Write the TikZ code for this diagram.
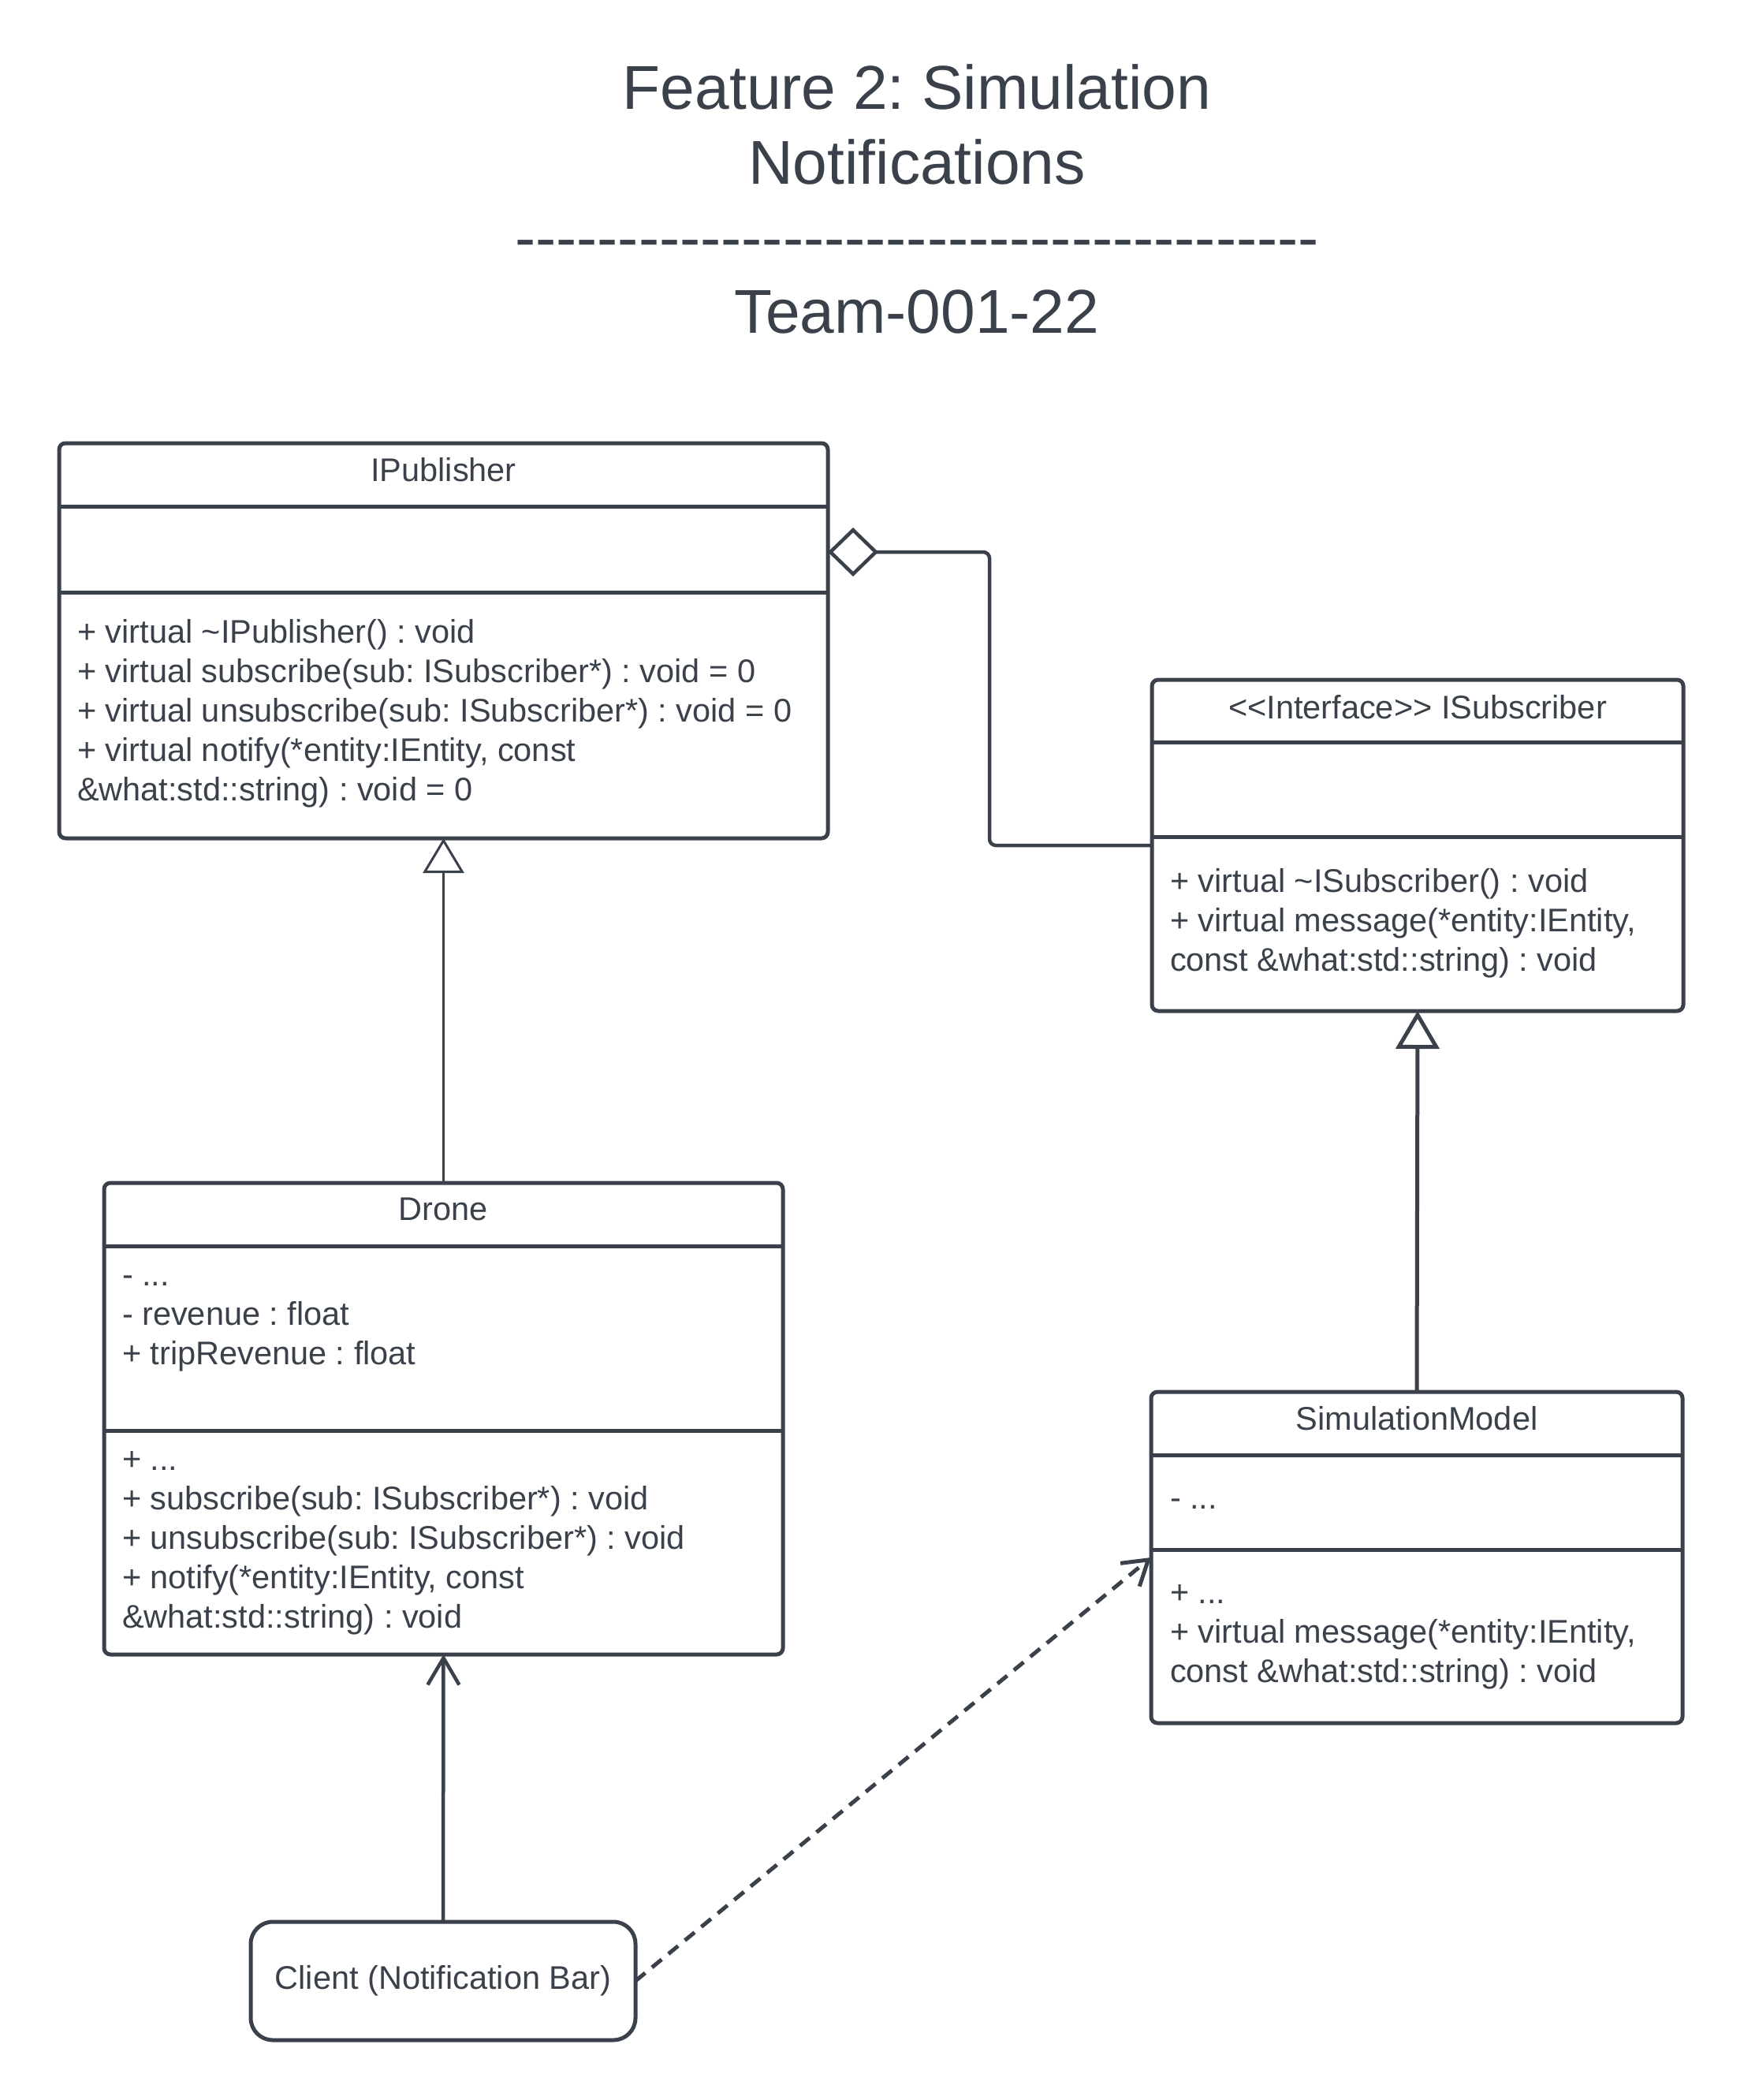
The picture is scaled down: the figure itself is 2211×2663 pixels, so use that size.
\documentclass[tikz,border=0pt]{standalone}
\usepackage{fontspec}
\setmainfont{Liberation Sans}
\usetikzlibrary{arrows.meta}
\definecolor{ink}{RGB}{58,65,74}
\frenchspacing
\begin{document}
\begin{tikzpicture}[x=1pt,y=-1pt,line join=round,
  every node/.style={text=ink,inner sep=0pt,outer sep=0pt},
  body/.style={font=\fontsize{41.5pt}{50pt}\selectfont},
  titletext/.style={font=\fontsize{78.5pt}{94pt}\selectfont,anchor=base},
  classbox/.style={draw=ink,line width=5pt,rounded corners=8pt,fill=white},
  divider/.style={draw=ink,line width=5pt},
  members/.style={body,anchor=north west,align=left},
  ctitle/.style={body,anchor=base},
  genthin/.style={draw=ink,line width=3pt,-{Triangle[open,length=44pt,width=52pt,fill=white]}},
  genthick/.style={draw=ink,line width=5pt,-{Triangle[open,length=48pt,width=55pt,fill=white]}},
  aggr/.style={draw=ink,line width=4.5pt,rounded corners=8pt,-{Diamond[open,length=64pt,width=62pt,fill=white]}},
  assoc/.style={draw=ink,line width=4.5pt,-{Straight Barb[length=34pt,width=40pt]}},
  dep/.style={draw=ink,line width=5pt,dash pattern=on 16pt off 11pt,-{Straight Barb[length=30pt,width=38pt]}}]
\fill[white] (0,0) rectangle (2211,2663);
\useasboundingbox (0,0) rectangle (2211,2663);

% title
\node[titletext] (t1) at (1163,138) {Feature 2: Simulation};
\node[titletext] (t2) at (1163,233) {Notifications};
\node[titletext] (t3) at (1163,328) {\foreach \i in {1,...,39}{-\kern0pt}};
\node[titletext] (t4) at (1163,422) {Team-001-22};

% IPublisher
\node[classbox,minimum width=975pt,minimum height=501pt] (ipub) at (562.5,812.5) {};
\draw[divider] ([yshift=-80pt]ipub.north west) -- ([yshift=-80pt]ipub.north east);
\draw[divider] ([yshift=-189pt]ipub.north west) -- ([yshift=-189pt]ipub.north east);
\node[ctitle] (ipubT) at (562.5,610) {IPublisher};
\node[members] (ipubM) at (98,780) {\strut + virtual \textasciitilde IPublisher() : void\\
\strut + virtual subscribe(sub: ISubscriber*) : void = 0\\
\strut + virtual unsubscribe(sub: ISubscriber*) : void = 0\\
\strut + virtual notify(*entity:IEntity, const\\
\strut \&what:std::string) : void = 0};

% ISubscriber
\node[classbox,minimum width=674pt,minimum height=420pt] (isub) at (1798,1072) {};
\draw[divider] ([yshift=-79pt]isub.north west) -- ([yshift=-79pt]isub.north east);
\draw[divider] ([yshift=-199pt]isub.north west) -- ([yshift=-199pt]isub.north east);
\node[ctitle] (isubT) at (1798,911) {\textless\kern0pt\textless\kern0pt Interface\textgreater\kern0pt\textgreater{} ISubscriber};
\node[members] (isubM) at (1484,1096) {\strut + virtual \textasciitilde ISubscriber() : void\\
\strut + virtual message(*entity:IEntity,\\
\strut const \&what:std::string) : void};

% Drone
\node[classbox,minimum width=861pt,minimum height=598pt] (drone) at (562.5,1799) {};
\draw[divider] ([yshift=-80pt]drone.north west) -- ([yshift=-80pt]drone.north east);
\draw[divider] ([yshift=-314pt]drone.north west) -- ([yshift=-314pt]drone.north east);
\node[ctitle] (droneT) at (562.5,1547) {Drone};
\node[members] (droneA) at (155,1595) {\strut - ...\\
\strut - revenue : float\\
\strut + tripRevenue : float};
\node[members] (droneM) at (155,1829) {\strut + ...\\
\strut + subscribe(sub: ISubscriber*) : void\\
\strut + unsubscribe(sub: ISubscriber*) : void\\
\strut + notify(*entity:IEntity, const\\
\strut \&what:std::string) : void};

% SimulationModel
\node[classbox,minimum width=674pt,minimum height=420pt] (simm) at (1797,1975) {};
\draw[divider] ([yshift=-80pt]simm.north west) -- ([yshift=-80pt]simm.north east);
\draw[divider] ([yshift=-200pt]simm.north west) -- ([yshift=-200pt]simm.north east);
\node[ctitle] (simmT) at (1797,1813) {SimulationModel};
\node[members] (simmA) at (1484,1878) {\strut - ...};
\node[members] (simmM) at (1484,1998) {\strut + ...\\
\strut + virtual message(*entity:IEntity,\\
\strut const \&what:std::string) : void};

% Client
\node[draw=ink,line width=5pt,rounded corners=28pt,fill=white,minimum width=488pt,minimum height=150pt,body,text height=30pt,text depth=9pt] (client) at (562,2512) {Client (Notification Bar)};

% connectors
\coordinate (aggbend) at (1255,700);
\draw[aggr] (isub.west) -| (aggbend) -- (aggbend -| ipub.east);
\draw[genthin] (drone.north) -- (ipub.south);
\draw[genthick] (simm.north) -- (isub.south);
\draw[assoc] (client.north) -- (drone.south);
\draw[dep] (client.east) -- (simm.west);
\end{tikzpicture}
\end{document}
